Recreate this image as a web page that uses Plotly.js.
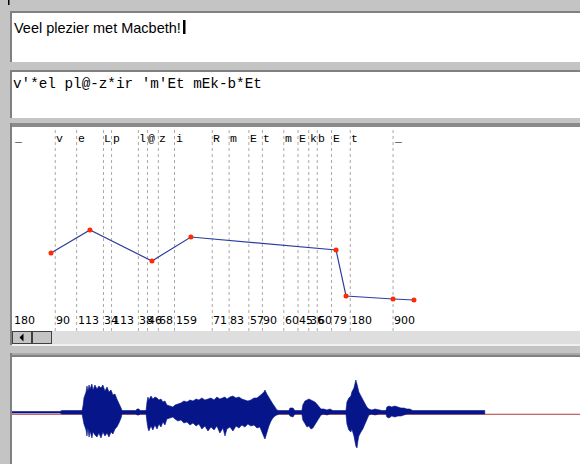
<!DOCTYPE html>
<html><head><meta charset="utf-8">
<script src="https://cdn.plot.ly/plotly-3.0.1.min.js"></script>
<style>html,body{margin:0;padding:0;background:#c4c4c4;}#chart{width:580px;height:464px;}</style>
</head><body><div id="chart"></div>
<script>
// ---- data ----
const sentence = "Veel plezier met Macbeth!";
const phonetic = "v'*el pl@-z*ir 'm'Et mEk-b*Et";
const phonemes = ["_","v","e","L","p","l","@","z","i","R","m","E","t","m","E","k","b","E","t","_"];
const durations = [180,90,113,34,113,38,46,68,159,71,83,57,90,60,45,36,60,79,180,900];
const pitchTime = [162,326,587,751,1362,1404,1602,1690];
const pitchHz = [117,140,109,133,120,74,71,70];
const waveTime = [0,253,264,370,375,380,391,396,401,407,412,422,428,438,449,459,470,480,491,502,512,523,533,544,554,565,576,581,655,660,671,676,708,713,718,723,734,744,755,766,776,787,797,808,818,834,850,861,876,892,908,924,940,956,972,987,1003,1019,1035,1051,1067,1082,1098,1114,1125,1135,1151,1167,1183,1199,1214,1230,1246,1262,1278,1294,1309,1320,1331,1336,1346,1357,1368,1378,1389,1399,1410,1463,1468,1484,1494,1531,1536,1547,1558,1568,1579,1589,1600,1610,1621,1632,1647,1663,1679,1695,1764,1769,1779,1790,1795,1806,1811,1816,1822,1827,1832,1843,1853,1864,1874,1885,1901,1917,1938,1954,1975,1980,1991,2006,2022,2038,2054,2070,2086,2101,2117,2497];
const waveTop = [0.03,0.03,0.05,0.05,0.14,0.30,0.42,0.54,0.44,0.56,0.48,0.58,0.46,0.56,0.48,0.54,0.50,0.56,0.44,0.52,0.42,0.46,0.36,0.38,0.28,0.20,0.10,0.05,0.05,0.08,0.08,0.05,0.05,0.22,0.32,0.26,0.34,0.28,0.32,0.30,0.26,0.28,0.22,0.24,0.16,0.14,0.12,0.16,0.18,0.20,0.24,0.22,0.26,0.24,0.28,0.26,0.30,0.26,0.28,0.30,0.26,0.32,0.28,0.30,0.32,0.28,0.32,0.34,0.30,0.32,0.28,0.26,0.24,0.26,0.30,0.30,0.34,0.38,0.42,0.46,0.38,0.30,0.22,0.18,0.12,0.06,0.05,0.05,0.10,0.10,0.05,0.05,0.16,0.24,0.26,0.28,0.26,0.24,0.22,0.18,0.14,0.08,0.08,0.06,0.08,0.05,0.05,0.22,0.30,0.34,0.42,0.50,0.58,0.66,0.58,0.50,0.42,0.34,0.26,0.18,0.12,0.08,0.06,0.08,0.06,0.05,0.05,0.12,0.14,0.12,0.14,0.12,0.10,0.10,0.08,0.08,0.05,0.05];
const waveBottom = [0,0,-0.02,-0.02,-0.10,-0.22,-0.34,-0.46,-0.30,-0.48,-0.36,-0.50,-0.38,-0.44,-0.48,-0.40,-0.50,-0.38,-0.46,-0.40,-0.48,-0.38,-0.42,-0.32,-0.28,-0.20,-0.10,-0.02,-0.02,-0.04,-0.04,-0.02,-0.02,-0.18,-0.30,-0.36,-0.26,-0.34,-0.24,-0.32,-0.22,-0.28,-0.18,-0.24,-0.12,-0.10,-0.08,-0.12,-0.16,-0.14,-0.20,-0.18,-0.24,-0.20,-0.26,-0.22,-0.32,-0.26,-0.36,-0.28,-0.34,-0.26,-0.40,-0.30,-0.46,-0.32,-0.28,-0.36,-0.26,-0.30,-0.24,-0.28,-0.22,-0.26,-0.24,-0.30,-0.28,-0.36,-0.48,-0.52,-0.38,-0.26,-0.16,-0.10,-0.06,-0.04,-0.02,-0.02,-0.06,-0.08,-0.02,-0.02,-0.14,-0.22,-0.28,-0.26,-0.32,-0.30,-0.22,-0.16,-0.10,-0.04,-0.02,-0.04,-0.02,-0.02,-0.02,-0.22,-0.34,-0.38,-0.32,-0.46,-0.54,-0.66,-0.70,-0.56,-0.46,-0.38,-0.32,-0.22,-0.14,-0.04,-0.02,-0.04,-0.02,-0.02,-0.02,-0.08,-0.10,-0.06,-0.08,-0.06,-0.06,-0.04,-0.02,-0.02,-0.02,-0.02];
const waveBaselineTime = [0,3000];
const waveBaselineAmp = [-0.025,-0.025];

// ---- page geometry helpers (pixel -> paper) ----
const W = 580, H = 464;
const px = x => x / W, py = y => 1 - y / H;
function rect(x0, y0, x1, y1, fill, layer) {
  return {type:'rect', xref:'paper', yref:'paper', x0:px(x0), x1:px(x1), y0:py(y1), y1:py(y0),
          fillcolor:fill, line:{width:0}, layer: layer || 'below'};
}

// segment boundaries from durations
const bounds = [0];
durations.forEach((d, i) => bounds.push(bounds[i] + d));

const shapes = [];
// panels
shapes.push(rect(10,11,580,13,'#808080'), rect(10,11,12,62,'#808080'), rect(12,13,580,62,'#ffffff'));
shapes.push(rect(10,70,580,72,'#808080'), rect(10,70,12,118,'#808080'), rect(12,72,580,118,'#ffffff'));
shapes.push(rect(10,123,580,127,'#8a8a8a'), rect(10,123,12,345,'#808080'), rect(12,127,580,331,'#ffffff'));
// scrollbar
shapes.push(rect(12,331,580,344,'#dedede'));
shapes.push(rect(12,344,580,346,'#f0f0f0'));
shapes.push(rect(12,331,32,344,'#404040'), rect(13,332,31,343,'#c4c4c4'));
shapes.push(rect(32,331,52,344,'#404040'), rect(33,332,51,343,'#c4c4c4'));
shapes.push({type:'path', xref:'paper', yref:'paper', layer:'below', fillcolor:'#000', line:{width:0},
  path:`M ${px(19.5)} ${py(337.5)} L ${px(23.5)} ${py(333.5)} L ${px(23.5)} ${py(341.5)} Z`});
// waveform panel
shapes.push(rect(10,353,580,355,'#a8a8a8'), rect(10,355,580,357,'#808080'), rect(10,353,12,464,'#808080'), rect(12,357,580,464,'#ffffff'));
// little mark top-left
shapes.push(rect(8,0,9.5,5,'#000000'));
// text cursor
shapes.push(rect(183,20,185.5,34,'#000000','above'));
// dashed boundary lines
for (let i = 1; i < bounds.length - 1; i++) {
  shapes.push({type:'line', xref:'x', yref:'paper', x0:bounds[i], x1:bounds[i], y0:py(331), y1:py(128),
               line:{color:'#a9a9a9', width:1, dash:'3px,3px'}, layer:'below'});
}

const annotations = [];
annotations.push({xref:'paper', yref:'paper', x:px(12.5), y:py(28), xanchor:'left', yanchor:'middle', showarrow:false,
  text:sentence, font:{family:'Liberation Sans, Arial, sans-serif', size:14.5, color:'#000'}, borderpad:0});
annotations.push({xref:'paper', yref:'paper', x:px(12), y:py(83.5), xanchor:'left', yanchor:'middle', showarrow:false,
  text:phonetic, font:{family:'Courier New, Liberation Mono, monospace', size:14.3, color:'#000'}, borderpad:0});
phonemes.forEach((p, i) => {
  annotations.push({xref:'x', yref:'paper', x:bounds[i], y:py(139), xanchor:'left', yanchor:'middle', showarrow:false,
    text:p, font:{family:'Courier New, Liberation Mono, monospace', size:11.5, color:'#000'}, borderpad:0});
  annotations.push({xref:'x', yref:'paper', x:bounds[i], y:py(320.5), xanchor:'left', yanchor:'middle', showarrow:false,
    text:String(durations[i]), font:{family:'DejaVu Sans, sans-serif', size:11, color:'#000'}, borderpad:0});
});

const traces = [
  {x:pitchTime, y:pitchHz, xaxis:'x', yaxis:'y', type:'scatter', mode:'lines+markers',
   line:{color:'#2d3ea0', width:1.2}, marker:{color:'#ff2a00', size:5}, hoverinfo:'skip'},
  {x:waveBaselineTime, y:waveBaselineAmp, xaxis:'x2', yaxis:'y2', type:'scatter', mode:'lines',
   line:{color:'#b03a3a', width:1}, hoverinfo:'skip'},
  {x:waveTime.concat(waveTime.slice().reverse()), y:waveTop.concat(waveBottom.slice().reverse()),
   xaxis:'x2', yaxis:'y2', type:'scatter', mode:'lines', fill:'toself',
   fillcolor:'#06168a', line:{color:'#06168a', width:0.6}, hoverinfo:'skip'}
];

const hidden = {visible:false, fixedrange:true, showgrid:false, zeroline:false};
const layout = {
  width:W, height:H, margin:{l:0,r:0,t:0,b:0},
  paper_bgcolor:'#c4c4c4', plot_bgcolor:'rgba(0,0,0,0)', showlegend:false,
  xaxis: Object.assign({}, hidden, {domain:[px(12.5), 1], range:[0, 2389]}),
  yaxis: Object.assign({}, hidden, {domain:[py(310), py(150)], range:[60, 220]}),
  xaxis2: Object.assign({}, hidden, {domain:[px(12), 1], range:[0, 3000], anchor:'y2'}),
  yaxis2: Object.assign({}, hidden, {domain:[py(463), py(363)], range:[-1, 1], anchor:'x2'}),
  shapes:shapes, annotations:annotations
};
Plotly.newPlot('chart', traces, layout, {staticPlot:true, displayModeBar:false});
</script></body></html>
